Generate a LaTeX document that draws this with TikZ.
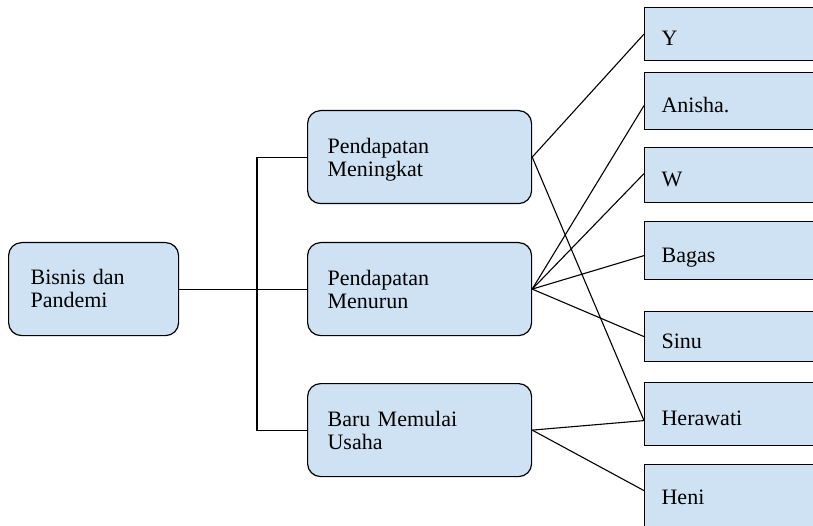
\documentclass[tikz,border=0pt]{standalone}
\usepackage{fontspec}
\setmainfont{Liberation Serif}
\definecolor{boxfill}{HTML}{CFE2F3}
\begin{document}
\begin{tikzpicture}[x=1pt,y=-1pt,
  box/.style={draw=black, fill=boxfill, line width=1.2pt, anchor=north west,
    align=left, font=\fontsize{22}{23}\selectfont, inner ysep=0pt},
  topic/.style={box, rounded corners=13pt, inner xsep=20pt, text width=184pt,
    minimum height=93pt, text height=21pt, text depth=28pt},
  rootbox/.style={topic, inner xsep=22pt, text width=126pt, text depth=31pt},
  leaf/.style={box, inner xsep=17pt, text width=170pt, text height=23pt, text depth=0pt},
  link/.style={line width=1.1pt, black}]
  \useasboundingbox (0,0) rectangle (813,526);
  \clip (0,0) rectangle (813,526);

  % root and the three categories
  \node[rootbox] (root) at (8,242) {Bisnis dan\\Pandemi};
  \node[topic] (m1) at (307,110) {Pendapatan\\Meningkat};
  \node[topic] (m2) at (307,242) {Pendapatan\\Menurun};
  \node[topic] (m3) at (307,383) {Baru Memulai\\Usaha};

  % names on the right
  \node[leaf, minimum height=53pt] (r1) at (644,7)   {Y};
  \node[leaf, minimum height=57pt] (r2) at (644,72)  {Anisha.};
  \node[leaf, minimum height=55pt] (r3) at (644,147) {W};
  \node[leaf, minimum height=58pt] (r4) at (644,221) {Bagas};
  \node[leaf, minimum height=50pt] (r5) at (644,311) {Sinu};
  \node[leaf, minimum height=63pt] (r6) at (644,382) {Herawati};
  \node[leaf, minimum height=80pt, text depth=23pt] (r7) at (644,464) {Heni};

  % tree bracket
  \draw[link] (root.east) -- (m2.west);
  \draw[link] (m1.west) -- ++(-50,0) |- (m3.west);

  % category-to-name links
  \draw[link] (m1.east) -- (r1.west);
  \draw[link] (m1.east) -- ([yshift=-6.5pt]r6.west);
  \draw[link] (m2.east) -- ([yshift=-4.5pt]r2.west);
  \draw[link] (m2.east) -- ([yshift=1.5pt]r3.west);
  \draw[link] (m2.east) -- ([yshift=-5pt]r4.west);
  \draw[link] (m2.east) -- (r5.west);
  \draw[link] (m3.east) -- ([yshift=-6.5pt]r6.west);
  \draw[link] (m3.east) -- ([yshift=14pt]r7.west);
\end{tikzpicture}
\end{document}
